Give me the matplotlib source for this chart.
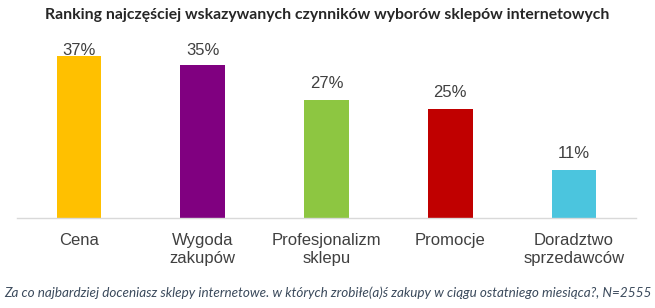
import matplotlib
matplotlib.use("Agg")
import matplotlib.pyplot as plt

categories = ["Cena", "Wygoda\nzakupów", "Profesjonalizm\nsklepu", "Promocje", "Doradztwo\nsprzedawców"]
values = [37, 35, 27, 25, 11]
value_labels = ["37%", "35%", "27%", "25%", "11%"]
colors = ["#FFC000", "#800080", "#8DC641", "#C00000", "#4BC5DE"]

title = "Ranking najczęściej wskazywanych czynników wyborów sklepów internetowych"
footer = "Za co najbardziej doceniasz sklepy internetowe. w których zrobiłe(a)ś zakupy w ciągu ostatniego miesiąca?, N=2555"

fig = plt.figure(figsize=(6.55, 3.08), dpi=100)
ax = fig.add_axes([17/655, 1 - 218/308, (636 - 17)/655, 175/308])

x = range(len(categories))
ax.bar(x, values, width=0.36, color=colors)
ax.set_xlim(-0.5, len(categories) - 0.5)
ax.set_ylim(0, 40)

label_cap = 37.3
for xi, v, lab in zip(x, values, value_labels):
    y = min(v + 2.6, label_cap)
    ax.text(xi, y, lab, ha="center", va="baseline", fontsize=12,
            color="#404040", family="Liberation Sans")

ax.set_xticks(list(x))
ax.set_xticklabels(categories, fontsize=12, color="#404040", family="Liberation Sans",
                   linespacing=1.2, va="top", multialignment="center")
ax.tick_params(axis="x", length=0, pad=11)
ax.set_yticks([])
for s in ["top", "left", "right"]:
    ax.spines[s].set_visible(False)
ax.spines["bottom"].set_color("#D9D9D9")
ax.spines["bottom"].set_linewidth(1)

fig.text(0.5, 1 - 15/308, title, ha="center", va="center", fontsize=11.3,
         fontweight="bold", color="#262626", family="Lato")
fig.text(0.5, 1 - 293/308, footer, ha="center", va="center", fontsize=9.7,
         style="italic", color="#3B4A5C", family="Lato")

fig.savefig("out.png", dpi=100, facecolor="white")
